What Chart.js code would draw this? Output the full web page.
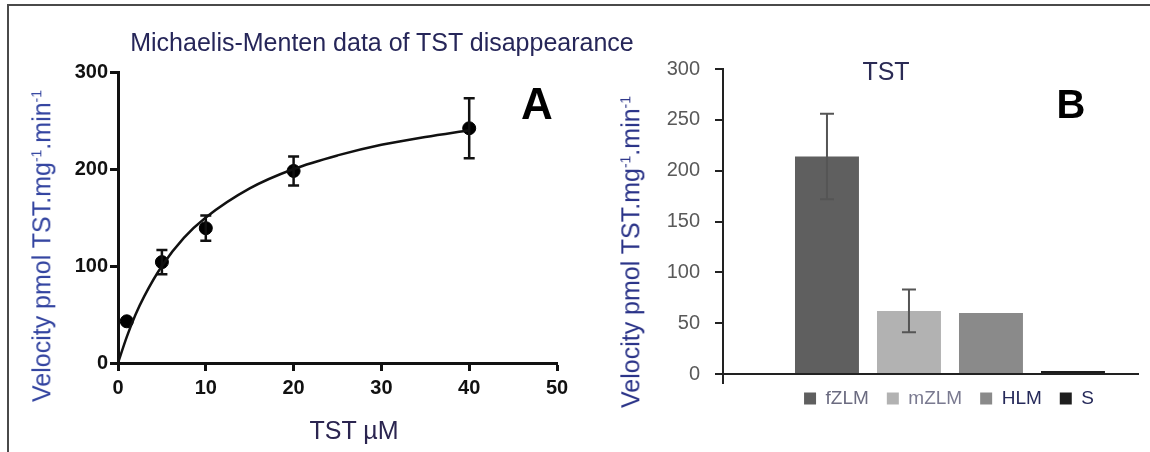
<!DOCTYPE html>
<html>
<head>
<meta charset="utf-8">
<script src="https://cdn.jsdelivr.net/npm/chart.js@4.4.1/dist/chart.umd.min.js"></script>
<style>
  body { margin: 0; background: #fff; font-family: 'Liberation Sans', Arial, sans-serif; }
  #wrap { position: relative; width: 1150px; height: 452px; overflow: hidden; }
  canvas { position: absolute; top: 0; }
  .frame { position: absolute; left: 7px; top: 4px; width: 1200px; height: 500px;
           border-top: 2.5px solid #4a4a4a; border-left: 2.5px solid #4a4a4a; }
  .txt { position: absolute; white-space: nowrap; line-height: 1; transform: translate(-50%, -50%); }
  .rot { transform: translate(-50%, -50%) rotate(-90deg); }
</style>
</head>
<body>
<div id="wrap">
  <div class="frame"></div>
  <canvas id="chartA" width="600" height="452" style="left:0"></canvas>
  <canvas id="chartB" width="550" height="452" style="left:600px"></canvas>

  <div class="txt" style="left:382px; top:42px; font-size:25px; color:#262659">Michaelis-Menten data of TST disappearance</div>
  <div class="txt" style="left:537px; top:104px; font-size:44px; font-weight:bold; color:#000">A</div>
  <div class="txt" style="left:1071px; top:104px; font-size:40px; font-weight:bold; color:#000">B</div>
  <div class="txt" style="left:886px; top:71px; font-size:25px; color:#2b2b55">TST</div>
  <div class="txt" style="left:354px; top:430px; font-size:25px; color:#2b2550">TST µM</div>
  <div class="txt rot" style="left:42px; top:246px; font-size:25px; color:#3344a0">Velocity pmol TST.mg<sup style="font-size:14px">-1</sup>.min<sup style="font-size:14px">-1</sup></div>
  <div class="txt rot" style="left:631px; top:252px; font-size:25px; color:#2a3388">Velocity pmol TST.mg<sup style="font-size:14px">-1</sup>.min<sup style="font-size:14px">-1</sup></div>
</div>
<script>
// Panel A - TST disappearance, mean +/- error
const substrateUM = [1, 5, 10, 20, 40];
const velocity = [43, 104, 139, 198, 242];
const velocityErr = [0, 12.5, 13, 15, 31];

// fitted Michaelis-Menten curve
const fitX = [0, 1, 2, 3, 5, 7.5, 10, 15, 20, 25, 30, 35, 40];
const fitY = [0, 27, 50, 69, 100, 129, 150, 180, 200, 214, 225, 233, 240];

// Panel B - microsome comparison
const microsomes = ['fZLM', 'mZLM', 'HLM', 'S'];
const tstVelocity = [214, 62, 60, 3];
const tstErr = [42, 21, 0, 0];

const barColors = ['#5f5f5f', '#b2b2b2', '#8a8a8a', '#1e1e1e'];
const legendText = ['#6b6b80', '#7a7a90', '#262a5a', '#262a5a'];
const FONT = "'Liberation Sans', Arial, sans-serif";

// draws vertical error bars with caps on top of the datasets
const errorBars = {
  id: 'errorBars',
  afterDatasetsDraw(chart) {
    const ctx = chart.ctx;
    const yScale = chart.scales.y;
    chart.data.datasets.forEach((ds, i) => {
      if (!ds.errors) return;
      const meta = chart.getDatasetMeta(i);
      meta.data.forEach((el, j) => {
        const err = ds.errors[j];
        if (!err) return;
        const v = ds.data[j].y;
        const top = yScale.getPixelForValue(v + err);
        const bot = yScale.getPixelForValue(v - err);
        const c = ds.capWidth / 2;
        ctx.save();
        ctx.strokeStyle = ds.errorColor;
        ctx.lineWidth = ds.errorWidth;
        ctx.beginPath();
        ctx.moveTo(el.x, top); ctx.lineTo(el.x, bot);
        ctx.moveTo(el.x - c, top); ctx.lineTo(el.x + c, top);
        ctx.moveTo(el.x - c, bot); ctx.lineTo(el.x + c, bot);
        ctx.stroke();
        ctx.restore();
      });
    });
  }
};

// nudge the bottom legend so it sits under the bars like the original
const legendShift = {
  id: 'legendShift',
  afterLayout(chart) {
    const lg = chart.legend;
    if (!lg) return;
    lg.left += 80; lg.right += 80;
    lg.top -= 7; lg.bottom -= 7;
  }
};

new Chart(document.getElementById('chartA'), {
  type: 'scatter',
  data: {
    datasets: [
      {
        label: 'fit',
        data: fitX.map((x, i) => ({ x: x, y: fitY[i] })),
        showLine: true,
        borderColor: '#111',
        borderWidth: 2.5,
        pointRadius: 0,
        cubicInterpolationMode: 'monotone'
      },
      {
        label: 'TST',
        data: substrateUM.map((x, i) => ({ x: x, y: velocity[i] })),
        pointRadius: 6.5,
        backgroundColor: '#000',
        borderColor: '#000',
        errors: velocityErr,
        errorColor: '#111',
        errorWidth: 2.5,
        capWidth: 11
      }
    ]
  },
  options: {
    responsive: false,
    animation: false,
    layout: { padding: { left: 0, right: 43, top: 72, bottom: 49 } },
    plugins: { legend: { display: false }, tooltip: { enabled: false } },
    scales: {
      x: {
        type: 'linear', min: 0, max: 50,
        afterFit: (s) => { s.height = 40; },
        border: { color: '#111', width: 3 },
        grid: { drawOnChartArea: false, drawTicks: true, tickLength: 8, tickWidth: 3, tickColor: '#111' },
        ticks: { stepSize: 10, padding: 5, color: '#111', font: { family: FONT, size: 20, weight: 'bold' } }
      },
      y: {
        min: 0, max: 300,
        afterFit: (s) => { s.width = 118; },
        border: { color: '#111', width: 3 },
        grid: { drawOnChartArea: false, drawTicks: true, tickLength: 8, tickWidth: 3, tickColor: '#111' },
        ticks: { stepSize: 100, padding: 2, color: '#111', font: { family: FONT, size: 20, weight: 'bold' } }
      }
    }
  },
  plugins: [errorBars]
});

new Chart(document.getElementById('chartB'), {
  type: 'bar',
  data: {
    datasets: microsomes.map((name, i) => ({
      label: name,
      data: [{ x: i + 1, y: tstVelocity[i] }],
      backgroundColor: barColors[i],
      borderWidth: 0,
      grouped: false,
      barPercentage: 0.78,
      categoryPercentage: 1,
      errors: [tstErr[i]],
      errorColor: '#555',
      errorWidth: 2,
      capWidth: 14
    }))
  },
  options: {
    responsive: false,
    animation: false,
    layout: { padding: { left: 0, right: 12, top: 69, bottom: 27 } },
    plugins: {
      tooltip: { enabled: false },
      legend: {
        position: 'bottom',
        labels: {
          boxWidth: 12, boxHeight: 12, padding: 18,
          font: { family: FONT, size: 19 },
          generateLabels: (chart) => {
            const items = Chart.defaults.plugins.legend.labels.generateLabels(chart);
            items.forEach((it, i) => { it.fontColor = legendText[i]; it.lineWidth = 0; });
            return items;
          }
        }
      }
    },
    scales: {
      x: {
        type: 'linear', min: -0.268, max: 4.793, offset: false,
        afterBuildTicks: (s) => { s.ticks = [{ value: s.min }]; },
        afterFit: (s) => { s.height = 4; },
        border: { color: '#222', width: 2 },
        grid: { offset: false, drawOnChartArea: false, drawTicks: true, tickLength: 10, lineWidth: 2, color: '#222' },
        ticks: { display: false }
      },
      y: {
        min: 0, max: 300,
        afterFit: (s) => { s.width = 123; },
        border: { color: '#222', width: 2 },
        grid: { drawOnChartArea: false, drawTicks: true, tickLength: 8, lineWidth: 2, color: '#222' },
        ticks: { stepSize: 50, padding: 15, color: '#595959', font: { family: FONT, size: 20 } }
      }
    }
  },
  plugins: [errorBars, legendShift]
});
</script>
</body>
</html>
